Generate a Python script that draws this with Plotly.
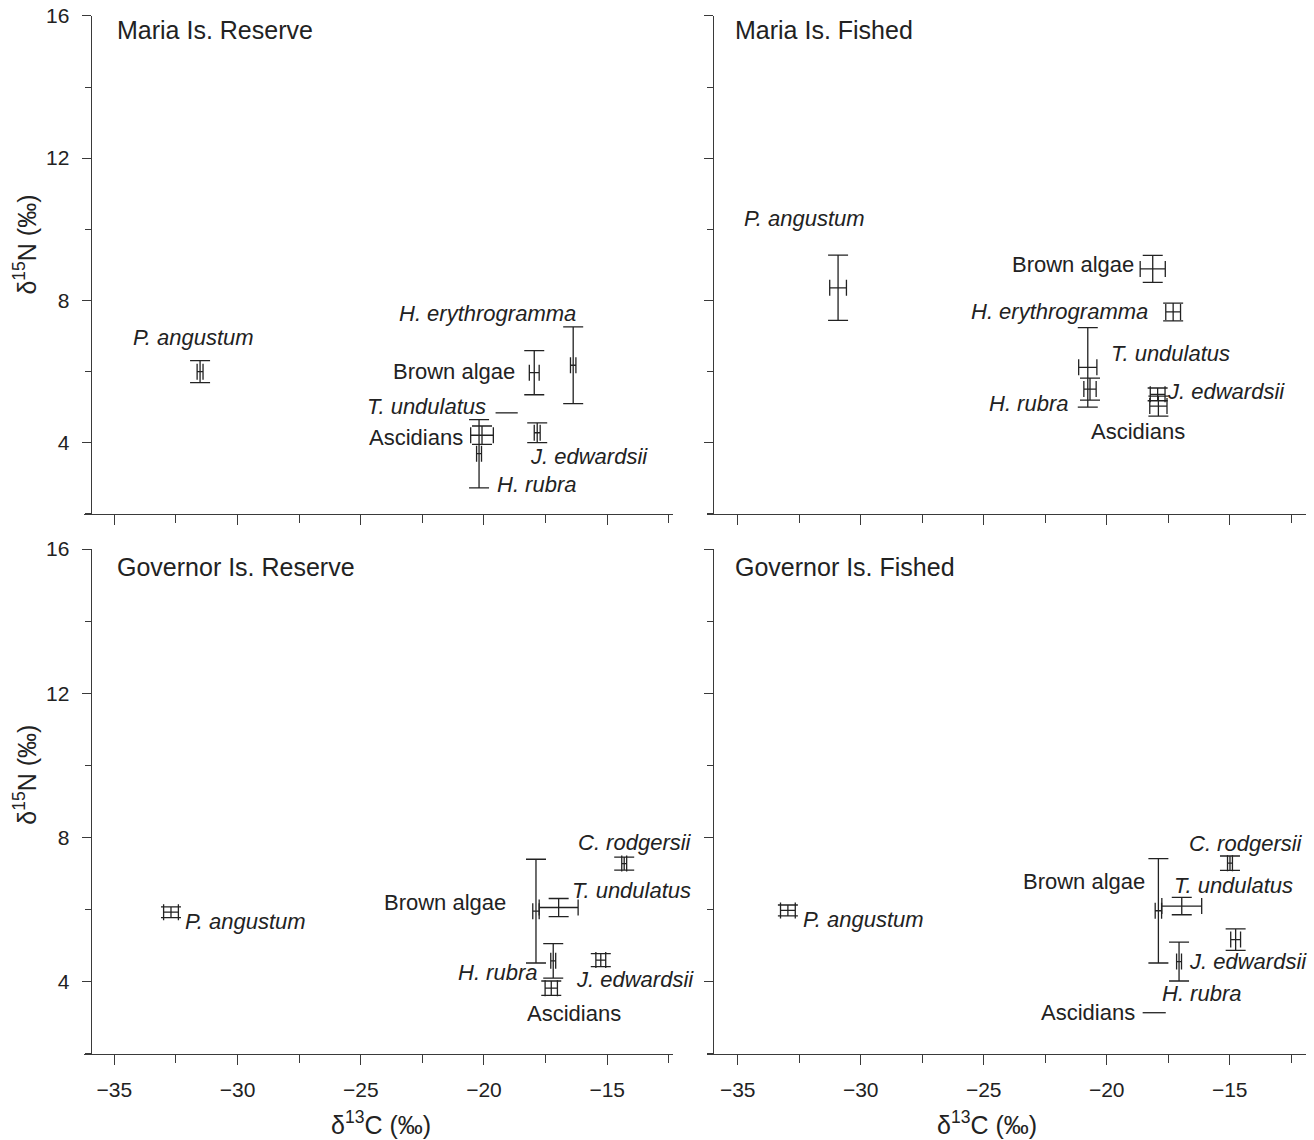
import plotly.graph_objects as go

# ---------------- data (mean ± sd) ----------------
# Maria Is. Reserve
mr_species = ["P. angustum", "Brown algae", "H. erythrogramma", "Ascidians", "H. rubra", "J. edwardsii"]
mr_c13 = [-31.52, -17.96, -16.38, -20.08, -20.20, -17.84]
mr_n15 = [5.99, 5.96, 6.17, 4.20, 3.68, 4.27]
mr_c13_sd = [0.12, 0.20, 0.11, 0.46, 0.10, 0.12]
mr_n15_sd = [0.31, 0.62, 1.08, 0.26, 0.96, 0.28]

# Maria Is. Fished
mf_species = ["P. angustum", "Brown algae", "H. erythrogramma", "T. undulatus", "H. rubra", "J. edwardsii", "Ascidians"]
mf_c13 = [-30.92, -18.13, -17.30, -20.77, -20.68, -17.93, -17.90]
mf_n15 = [8.35, 8.88, 7.67, 6.11, 5.50, 5.35, 5.02]
mf_c13_sd = [0.34, 0.51, 0.30, 0.37, 0.25, 0.30, 0.35]
mf_n15_sd = [0.92, 0.38, 0.25, 1.12, 0.31, 0.18, 0.28]

# Governor Is. Reserve
gr_species = ["P. angustum", "Brown algae", "T. undulatus", "C. rodgersii", "H. rubra", "J. edwardsii", "Ascidians"]
gr_c13 = [-32.70, -17.89, -16.97, -14.31, -17.19, -15.26, -17.27]
gr_n15 = [5.92, 5.95, 6.05, 7.27, 4.57, 4.59, 3.81]
gr_c13_sd = [0.30, 0.13, 0.79, 0.10, 0.10, 0.20, 0.25]
gr_n15_sd = [0.15, 1.44, 0.25, 0.18, 0.48, 0.18, 0.20]

# Governor Is. Fished
gf_species = ["P. angustum", "Brown algae", "T. undulatus", "C. rodgersii", "J. edwardsii", "H. rubra"]
gf_c13 = [-32.96, -17.90, -16.95, -14.99, -14.76, -17.06]
gf_n15 = [5.97, 5.96, 6.09, 7.28, 5.16, 4.55]
gf_c13_sd = [0.30, 0.13, 0.81, 0.10, 0.20, 0.10]
gf_n15_sd = [0.15, 1.45, 0.24, 0.20, 0.30, 0.54]

# leader dashes (species drawn as a short dash only)
mr_dash_c13 = [-19.53, -18.63]
mr_dash_n15 = [4.83, 4.83]
gf_dash_c13 = [-18.54, -17.60]
gf_dash_n15 = [3.13, 3.13]

panel_titles = ["Maria Is. Reserve", "Maria Is. Fished", "Governor Is. Reserve", "Governor Is. Fished"]
x_tickvals = [-35, -30, -25, -20, -15]
y_tickvals = [4, 8, 12, 16]

# ---------------- label placement (layout) ----------------
# (text, x, y, xanchor, italic)
labels = {
    0: [("P. angustum", -31.77, 6.95, "center", True),
        ("H. erythrogramma", -19.84, 7.64, "center", True),
        ("Brown algae", -18.68, 6.00, "right", False),
        ("T. undulatus", -19.83, 5.02, "right", True),
        ("Ascidians", -20.77, 4.15, "right", False),
        ("J. edwardsii", -18.20, 3.61, "left", True),
        ("H. rubra", -19.56, 2.82, "left", True)],
    1: [("P. angustum", -32.28, 10.31, "center", True),
        ("Brown algae", -18.81, 9.01, "right", False),
        ("H. erythrogramma", -18.24, 7.67, "right", True),
        ("T. undulatus", -19.89, 6.51, "left", True),
        ("H. rubra", -21.49, 5.08, "right", True),
        ("J. edwardsii", -17.63, 5.44, "left", True),
        ("Ascidians", -18.74, 4.30, "center", False)],
    2: [("P. angustum", -32.21, 5.67, "left", True),
        ("Brown algae", -19.04, 6.20, "right", False),
        ("T. undulatus", -16.51, 6.51, "left", True),
        ("C. rodgersii", -13.89, 7.86, "center", True),
        ("H. rubra", -17.76, 4.24, "right", True),
        ("J. edwardsii", -16.34, 4.05, "left", True),
        ("Ascidians", -16.36, 3.11, "center", False)],
    3: [("P. angustum", -32.43, 5.72, "left", True),
        ("Brown algae", -18.37, 6.76, "right", False),
        ("T. undulatus", -17.36, 6.67, "left", True),
        ("C. rodgersii", -14.35, 7.82, "center", True),
        ("J. edwardsii", -16.75, 4.54, "left", True),
        ("H. rubra", -16.14, 3.66, "center", True),
        ("Ascidians", -18.78, 3.13, "right", False)],
}

# ---------------- figure ----------------
W, H = 1314, 1140
INK = "#222222"
AX = "#3a3a3a"
FONT = "Liberation Sans, Arial, Helvetica, sans-serif"

fig = go.Figure()

panels = [
    (mr_c13, mr_n15, mr_c13_sd, mr_n15_sd),
    (mf_c13, mf_n15, mf_c13_sd, mf_n15_sd),
    (gr_c13, gr_n15, gr_c13_sd, gr_n15_sd),
    (gf_c13, gf_n15, gf_c13_sd, gf_n15_sd),
]
axis_ids = [("x", "y"), ("x2", "y2"), ("x3", "y3"), ("x4", "y4")]

for (cx, ny, cxs, nys), (xa, ya) in zip(panels, axis_ids):
    fig.add_trace(go.Scatter(
        x=cx, y=ny, mode="markers", xaxis=xa, yaxis=ya,
        marker=dict(size=2, opacity=0),
        error_x=dict(type="data", array=cxs, visible=True, width=8,
                     thickness=1.3, color=INK, copy_ystyle=False),
        error_y=dict(type="data", array=nys, visible=True, width=10,
                     thickness=1.3, color=INK),
        showlegend=False, hoverinfo="skip",
    ))

for dx, dy, (xa, ya) in [(mr_dash_c13, mr_dash_n15, axis_ids[0]),
                         (gf_dash_c13, gf_dash_n15, axis_ids[3])]:
    fig.add_trace(go.Scatter(x=dx, y=dy, mode="lines", xaxis=xa, yaxis=ya,
                             line=dict(color=INK, width=1.3),
                             showlegend=False, hoverinfo="skip"))

# pixel geometry (vertical mapping compensates the observed render offset)
def px_x(p):
    return p / W

def px_y(p):
    return 1 - (p - 10) / 1130

left_dom = [px_x(84), px_x(673)]
right_dom = [px_x(706.7), px_x(1306)]
top_dom = [px_y(513), px_y(14)]
bot_dom = [px_y(1054), px_y(548)]

x_range_left = [-36.23, -12.33]
x_range_right = [-36.26, -11.90]
y_range = [1.98, 16]

def xaxis_cfg(dom, rng, anchor, labels_on):
    return dict(
        domain=dom, range=rng, anchor=anchor,
        showline=True, linecolor=AX, linewidth=1.3,
        ticks="outside", ticklen=10, tickwidth=1.3, tickcolor=AX,
        tickvals=x_tickvals, showticklabels=labels_on,
        ticklabelstandoff=6,
        tickfont=dict(family=FONT, size=21, color=INK),
        minor=dict(ticks="outside", ticklen=8, tickwidth=1.3, tickcolor=AX,
                   tick0=-35, dtick=2.5, showgrid=False),
        showgrid=False, zeroline=False, fixedrange=True,
    )

def yaxis_cfg(dom, pos, labels_on):
    return dict(
        domain=dom, range=y_range, anchor="free", position=pos,
        showline=True, linecolor=AX, linewidth=1.3,
        ticks="outside", ticklen=9, tickwidth=1.3, tickcolor=AX,
        tickvals=y_tickvals, showticklabels=labels_on,
        ticklabelstandoff=8,
        tickfont=dict(family=FONT, size=21, color=INK),
        minor=dict(ticks="outside", ticklen=6, tickwidth=1.3, tickcolor=AX,
                   tick0=0, dtick=2, showgrid=False),
        showgrid=False, zeroline=False, fixedrange=True,
    )

ypos_left = px_x(90.7)
ypos_right = px_x(712.7)

fig.update_layout(
    width=W, height=H,
    margin=dict(l=0, r=0, t=0, b=0),
    paper_bgcolor="white", plot_bgcolor="white",
    font=dict(family=FONT, color=INK),
    xaxis=xaxis_cfg(left_dom, x_range_left, "y", False),
    xaxis2=xaxis_cfg(right_dom, x_range_right, "y2", False),
    xaxis3=xaxis_cfg(left_dom, x_range_left, "y3", True),
    xaxis4=xaxis_cfg(right_dom, x_range_right, "y4", True),
    yaxis=yaxis_cfg(top_dom, ypos_left, True),
    yaxis2=yaxis_cfg(top_dom, ypos_right, False),
    yaxis3=yaxis_cfg(bot_dom, ypos_left, True),
    yaxis4=yaxis_cfg(bot_dom, ypos_right, False),
)

annotations = []
for i, (xa, ya) in enumerate(axis_ids):
    for text, lx, ly, anchor, ital in labels[i]:
        annotations.append(dict(
            x=lx, y=ly, xref=xa, yref=ya, showarrow=False,
            text=f"<i>{text}</i>" if ital else text,
            xanchor=anchor, yanchor="middle",
            font=dict(family=FONT, size=22, color=INK),
        ))

title_pos = [(115, 28), (733, 28), (115, 566), (733, 566)]
for t, (tx, ty) in zip(panel_titles, title_pos):
    annotations.append(dict(
        x=px_x(tx), y=px_y(ty), xref="paper", yref="paper", showarrow=False,
        text=t, xanchor="left", yanchor="middle",
        font=dict(family=FONT, size=25, color=INK),
    ))

for cy in (243, 774):
    annotations.append(dict(
        x=px_x(25), y=px_y(cy), xref="paper", yref="paper", showarrow=False,
        text="δ<sup>15</sup>N (‰)", textangle=-90,
        xanchor="center", yanchor="middle",
        font=dict(family=FONT, size=25, color=INK),
    ))
for cx in (381, 987):
    annotations.append(dict(
        x=px_x(cx), y=px_y(1123), xref="paper", yref="paper", showarrow=False,
        text="δ<sup>13</sup>C (‰)",
        xanchor="center", yanchor="middle",
        font=dict(family=FONT, size=25, color=INK),
    ))

fig.update_layout(annotations=annotations)
fig.write_html("out.html")
